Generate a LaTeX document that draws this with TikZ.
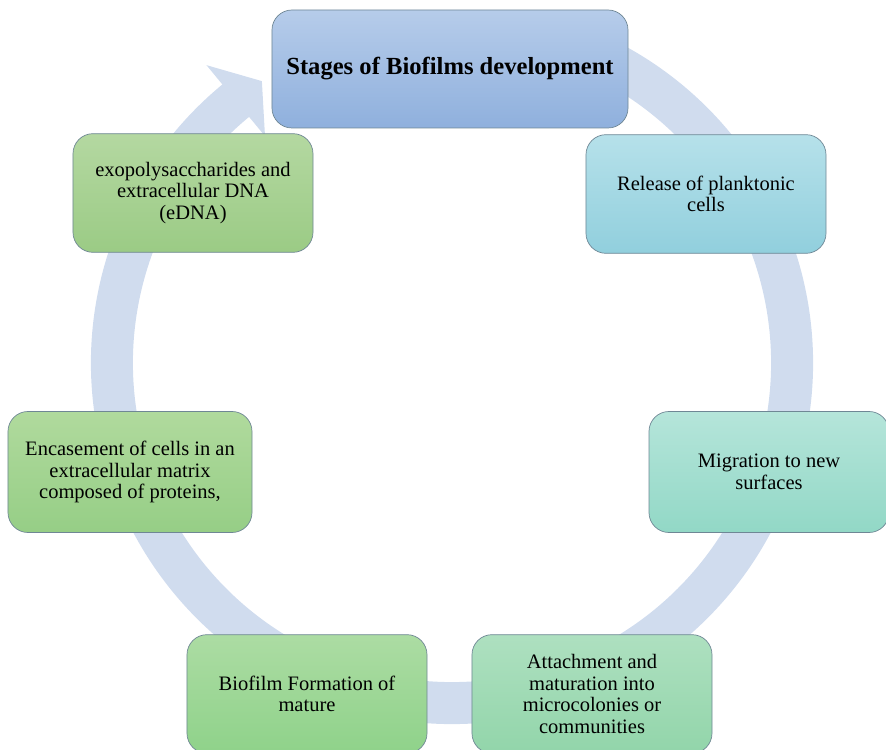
\documentclass[tikz,border=0pt]{standalone}
\usepackage{fontspec}
\setmainfont{Liberation Serif}
\usepackage{xcolor}
\usetikzlibrary{calc}

\definecolor{ringblue}{HTML}{D0DCEE}
\definecolor{boxline}{HTML}{6F8795}

\tikzset{
  stage/.style={draw=boxline, line width=0.6pt, rounded corners=0.6cm,
    minimum width=7.2cm, minimum height=3.56cm, inner sep=0pt,
    align=center, font=\fontsize{17.5}{18.5}\selectfont},
}

\begin{document}
\begin{tikzpicture}[x=0.03cm,y=0.03cm]
    \useasboundingbox (0,0) rectangle (886,750);
    \coordinate (c) at (452,387);

    % cycle ring
    \draw[ringblue,line width=1.26cm] ($(c)+(70:340)$) arc[start angle=70,end angle=-231,radius=340];
    \fill[ringblue] ($(c)+(129.5:386)$)--($(c)+(124:340)$)--($(c)+(129.5:294)$)--cycle;

    \node[stage,minimum width=10.68cm,minimum height=3.54cm,
          top color={rgb,255:red,182;green,204;blue,234},bottom color={rgb,255:red,143;green,176;blue,221},
          font=\fontsize{21}{24}\selectfont\bfseries] (title) at (450,681) {Stages of Biofilms development};

    \node[stage,top color={rgb,255:red,182;green,225;blue,234},bottom color={rgb,255:red,145;green,207;blue,221}]
          (release) at (706,556) {Release of planktonic\\cells};
    \node[stage,minimum height=3.63cm,top color={rgb,255:red,181;green,229;blue,218},bottom color={rgb,255:red,146;green,216;blue,198}]
          (migration) at (769,278) {Migration to new\\surfaces};
    \node[stage,top color={rgb,255:red,174;green,224;blue,192},bottom color={rgb,255:red,146;green,213;blue,170}]
          (attach) at (592,56) {Attachment and\\maturation into\\microcolonies or\\communities};
    \node[stage,top color={rgb,255:red,172;green,220;blue,163},bottom color={rgb,255:red,143;green,210;blue,138}]
          (mature) at (307,56) {Biofilm Formation of\\mature};
    \node[stage,minimum width=7.32cm,minimum height=3.63cm,top color={rgb,255:red,176;green,218;blue,157},bottom color={rgb,255:red,150;green,206;blue,134}]
          (encase) at (130,278) {Encasement of cells in an\\extracellular matrix\\composed of proteins,};
    \node[stage,top color={rgb,255:red,180;green,216;blue,161},bottom color={rgb,255:red,155;green,203;blue,133}]
          (exopoly) at (193,557) {exopolysaccharides and\\extracellular DNA\\(eDNA)};
\end{tikzpicture}
\end{document}
